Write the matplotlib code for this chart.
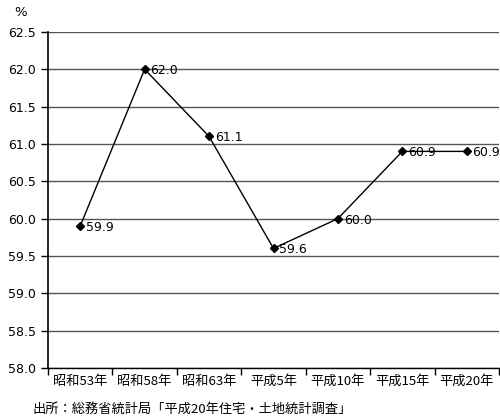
import matplotlib
matplotlib.use("Agg")
import matplotlib.pyplot as plt
import numpy as np

plt.rcParams['font.family'] = ['Noto Sans CJK JP', 'DejaVu Sans']

years = ["昭和53年", "昭和58年", "昭和63年", "平成5年", "平成10年", "平成15年", "平成20年"]
rates = [59.9, 62.0, 61.1, 59.6, 60.0, 60.9, 60.9]
yticks = [58.0, 58.5, 59.0, 59.5, 60.0, 60.5, 61.0, 61.5, 62.0, 62.5]

fig = plt.figure(figsize=(5, 4.2), dpi=100)
ax = fig.add_axes([0.096, 0.124, 0.902, 0.800])

x = np.arange(len(years))
ax.set_xlim(-0.5, len(years) - 0.5)
ax.set_ylim(58.0, 62.5)

for y in yticks:
    ax.axhline(y, color="#555555", lw=1.0, zorder=1)

ax.plot(x, rates, color="black", lw=1.0, marker="D", ms=4.5, zorder=3)
for xi, v in zip(x, rates):
    ax.text(xi + 0.09, v - 0.02, f"{v:.1f}", va="center", ha="left", fontsize=9,
            family="DejaVu Sans", zorder=4, clip_on=False)

ax.set_yticks(yticks)
ax.set_yticklabels([f"{v:.1f}" for v in yticks], fontsize=9, family="DejaVu Sans")
ax.set_xticks(x)
ax.set_xticklabels(years, fontsize=9.5)
ax.tick_params(axis="x", length=0, pad=5)
ax.set_xticks(np.arange(-0.5, len(years)), minor=True)
ax.tick_params(axis="x", which="minor", length=5, width=1, color="black", direction="out")
ax.tick_params(axis="y", length=5, width=1, direction="out")

for s in ["top", "right"]:
    ax.spines[s].set_visible(False)
ax.spines["left"].set_color("black")
ax.spines["left"].set_linewidth(1.2)
ax.spines["bottom"].set_color("black")
ax.spines["bottom"].set_linewidth(1.0)

fig.text(0.028, 0.97, "%", fontsize=9.5, ha="left", va="center", family="DejaVu Sans")
fig.text(0.066, 0.025, "出所：総務省統計局「平成20年住宅・土地統計調査」", fontsize=9.5,
         ha="left", va="center")

fig.savefig("out.png", dpi=100)
